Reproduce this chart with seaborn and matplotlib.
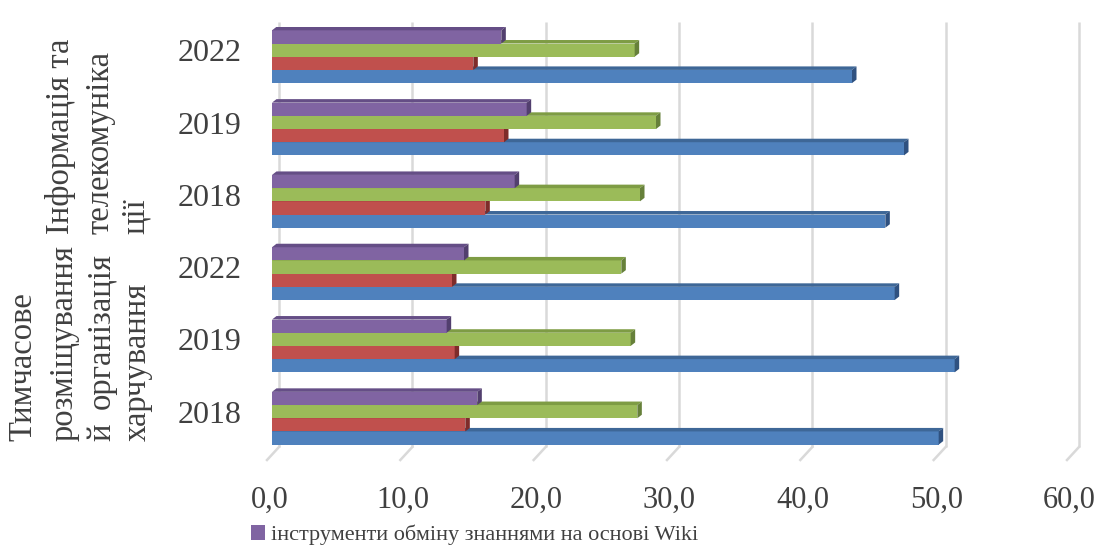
import pandas as pd
import seaborn as sns
import matplotlib.pyplot as plt
from matplotlib.patches import Polygon
from matplotlib.transforms import offset_copy, ScaledTranslation

# data (top of the chart first)
categories = ['Інформація 2022', 'Інформація 2019', 'Інформація 2018',
              'Харчування 2022', 'Харчування 2019', 'Харчування 2018']
year_labels = ['2022', '2019', '2018', '2022', '2019', '2018']
series = ['інструменти обміну знаннями на основі Wiki', 'ряд 3', 'ряд 2', 'ряд 1']
wiki = [17.2, 19.1, 18.2, 14.4, 13.1, 15.4]
s3 = [27.2, 28.8, 27.6, 26.2, 26.9, 27.4]
s2 = [15.1, 17.4, 16.0, 13.5, 13.7, 14.5]
s1 = [43.5, 47.4, 46.0, 46.7, 51.2, 50.0]
x_ticks = [0, 10, 20, 30, 40, 50, 60]

front = ['#8064A2', '#9BBB59', '#C0504D', '#4F81BD']
top_face = ['#654E86', '#7E9C44', '#9E3C39', '#3E6797']
side_face = ['#523F6E', '#66803A', '#7E2C2A', '#2F5180']

df = pd.DataFrame({
    'category': categories * 4,
    'series': [s for s in series for _ in categories],
    'value': wiki + s3 + s2 + s1,
})

plt.rcParams['font.family'] = ['Liberation Serif', 'DejaVu Serif']
text_col = '#404040'

fig = plt.figure(figsize=(11.01, 5.51), dpi=100)
ax = fig.add_axes([272 / 1101, 1 - 452 / 551, 800 / 1101, 425 / 551])

sns.barplot(data=df, y='category', x='value', hue='series', order=categories,
            hue_order=series, palette=front, width=0.73, orient='h',
            errorbar=None, saturation=1, linewidth=0, ax=ax)

ax.set_xlim(0, 60)
ax.set_ylim(5.467, -0.411)
for s in ax.spines.values():
    s.set_visible(False)
ax.set_xlabel('')
ax.set_ylabel('')

# 3D depth of the bars, in pixels
dx_px, dy_px = 4.5, 3.5
p0 = ax.transData.transform((0, 0))
p1 = ax.transData.transform((1, 1))
dxd = dx_px / (p1[0] - p0[0])
dyd = dy_px / (p1[1] - p0[1])  # negative, y axis is inverted

for i, cont in enumerate(ax.containers):
    for bar in cont:
        x0 = bar.get_x()
        x1 = x0 + bar.get_width()
        ya = bar.get_y()
        yb = ya + bar.get_height()
        ytop = min(ya, yb)
        ybot = max(ya, yb)
        z = 10 - (ytop + ybot) / 2
        bar.set_zorder(z)
        ax.add_patch(Polygon([(x0, ytop), (x1, ytop), (x1 + dxd, ytop + dyd), (x0 + dxd, ytop + dyd)],
                             closed=True, facecolor=top_face[i], edgecolor='none', zorder=z + 0.01))
        ax.add_patch(Polygon([(x1, ytop), (x1 + dxd, ytop + dyd), (x1 + dxd, ybot + dyd), (x1, ybot)],
                             closed=True, facecolor=side_face[i], edgecolor='none', zorder=z + 0.02))

# back wall gridlines and floor slashes
grid_col = '#D9D9D9'
back = offset_copy(ax.transData, fig=fig, x=7, y=5, units='dots')
ylo, yhi = ax.get_ylim()
for v in x_ticks:
    ax.plot([v, v], [ylo, yhi], color=grid_col, lw=1.8, transform=back, zorder=0.5,
            clip_on=False, solid_capstyle='butt')
    a = back.transform((v, ylo))
    ax.plot([a[0], a[0] - 12], [a[1], a[1] - 13], color=grid_col, lw=1.8,
            transform=None, zorder=0.5, clip_on=False)

ax.set_xticks(x_ticks)
ax.set_xticklabels([f'{v:.1f}'.replace('.', ',') for v in x_ticks])
ax.tick_params(axis='x', length=0, pad=24, labelsize=22, labelcolor=text_col)
ax.set_yticks(range(len(categories)))
ax.set_yticklabels(year_labels)
ax.tick_params(axis='y', length=0, pad=22, labelsize=23, labelcolor=text_col)
shift_y = ScaledTranslation(0, 6.5 / 100, fig.dpi_scale_trans)
for lab in ax.get_yticklabels():
    lab.set_transform(lab.get_transform() + shift_y)
shift_x = ScaledTranslation(-2.5 / 100, 0, fig.dpi_scale_trans)
for lab in ax.get_xticklabels():
    lab.set_transform(lab.get_transform() + shift_x)

# group labels
def gtext(x, y, s, va='bottom'):
    fig.text(x / 1101, 1 - y / 551, s, rotation=90, ha='center', va=va,
             fontsize=23.5, color=text_col)

gtext(23, 441, 'Тимчасове')
gtext(64, 441, 'розміщування')
gtext(102, 441, 'й')
gtext(102, 253, 'організація', va='top')
gtext(137, 441, 'харчування')
gtext(60, 234, 'Інформація та')
gtext(100, 234, 'телекомуніка')
gtext(136, 234, 'ції')

handles, labels = ax.get_legend_handles_labels()
ax.legend(handles[:1], labels[:1], loc='center left', bbox_to_anchor=(251 / 1101, 1 - 535 / 551),
          bbox_transform=fig.transFigure, frameon=False, fontsize=16, labelcolor=text_col,
          handlelength=0.65, handleheight=0.65, handletextpad=0.25, borderpad=0, borderaxespad=0)

fig.savefig('out.png', dpi=100)
